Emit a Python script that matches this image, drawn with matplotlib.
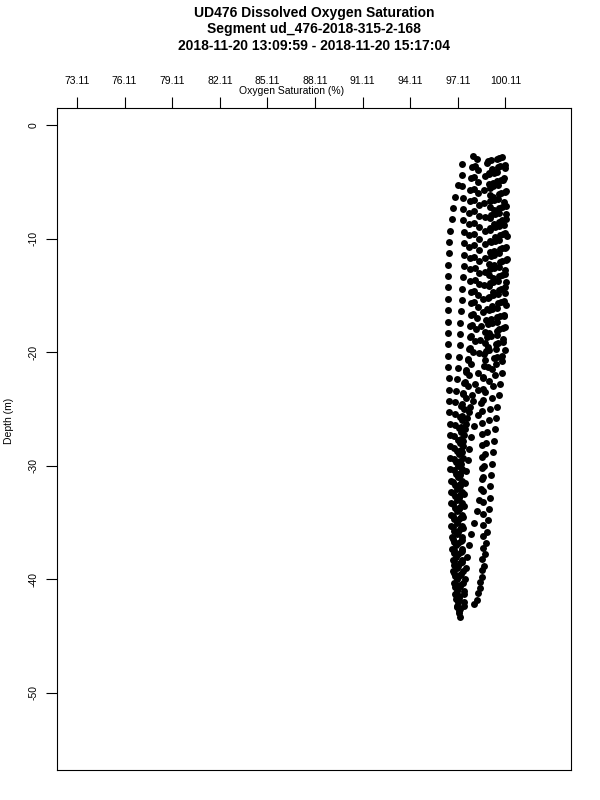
"""
    UD476 dissolved oxygen saturation profile, glider segment ud_476-2018-315-2-168
"""

import matplotlib
matplotlib.use('Agg')
import numpy as np
import matplotlib.pyplot as plt
import matplotlib.transforms as mtransforms

TITLE_LINES = ['UD476 Dissolved Oxygen Saturation',
               'Segment ud_476-2018-315-2-168',
               '2018-11-20 13:09:59 - 2018-11-20 15:17:04']
XTICKS = [73.11, 76.11, 79.11, 82.11, 85.11, 88.11, 91.11, 94.11, 97.11, 100.11]
YTICKS = [0, -10, -20, -30, -40, -50]

# one list per cast, depth in metres (positive down) and oxygen saturation in %
a_depth = [5.3, 6.3, 7.3, 8.3, 9.3, 10.3, 11.3, 12.3, 13.3, 14.3, 15.3, 16.3, 17.3, 18.3,
           19.3, 20.3, 21.3, 22.3, 23.3, 24.3, 25.3, 26.3, 27.3, 28.3, 29.3, 30.3, 31.3,
           32.3, 33.3, 34.3, 35.3, 36.3, 37.3, 38.3, 39.3, 40.3, 41.3, 42.3, 43.3]
a_oxy = [97.10, 96.95, 96.82, 96.72, 96.64, 96.58, 96.54, 96.52, 96.50, 96.50, 96.48, 96.48,
         96.48, 96.50, 96.50, 96.52, 96.52, 96.55, 96.55, 96.57, 96.58, 96.60, 96.60, 96.62,
         96.62, 96.64, 96.65, 96.67, 96.68, 96.70, 96.70, 96.72, 96.74, 96.78, 96.82, 96.88,
         96.96, 97.06, 97.22]

b_depth = [3.4, 4.4, 5.4, 6.4, 7.4, 8.4, 9.4, 10.4, 11.4, 12.4, 13.4, 14.4, 15.4, 16.4,
           17.4, 18.4, 19.4, 20.4, 21.4, 22.4, 23.4, 24.4, 25.4, 26.4, 27.4, 28.4, 29.4,
           30.4, 31.4, 32.4, 33.4, 34.4, 35.4, 36.4, 37.4, 38.4, 39.4, 40.4, 41.4, 42.4]
b_oxy = [97.35, 97.38, 97.40, 97.42, 97.44, 97.46, 97.48, 97.50, 97.50, 97.48, 97.45, 97.40,
         97.35, 97.30, 97.26, 97.24, 97.22, 97.18, 97.12, 97.06, 97.00, 96.96, 96.92, 96.90,
         96.88, 96.86, 96.85, 96.84, 96.83, 96.82, 96.82, 96.82, 96.82, 96.83, 96.84, 96.86,
         96.88, 96.92, 96.98, 97.05]

c_depth = [2.7, 3.7, 4.7, 5.7, 6.7, 7.7, 8.7, 9.7, 10.7, 11.7, 12.7, 13.7, 14.7, 15.7,
           16.7, 17.7, 18.7, 19.7, 20.7, 21.7, 22.7, 23.7, 24.7, 25.7, 26.7, 27.7, 28.7,
           29.7, 30.7, 31.7, 32.7, 33.7, 34.7, 35.7, 36.7, 37.7, 38.7, 39.7, 40.7, 41.7]
c_oxy = [98.06, 97.98, 97.92, 97.88, 97.85, 97.83, 97.82, 97.82, 97.83, 97.85, 97.88, 97.90,
         97.92, 97.93, 97.92, 97.90, 97.86, 97.80, 97.72, 97.62, 97.52, 97.42, 97.32, 97.24,
         97.16, 97.10, 97.05, 97.00, 96.97, 96.94, 96.92, 96.90, 96.88, 96.88, 96.87, 96.87,
         96.88, 96.90, 96.94, 97.00]

d_depth = [3.0, 4.0, 5.0, 6.0, 7.0, 8.0, 9.0, 10.0, 11.0, 12.0, 13.0, 14.0, 15.0, 16.0,
           17.0, 18.0, 19.0, 20.0, 21.0, 22.0, 23.0, 24.0, 25.0, 26.0, 27.0, 28.0, 29.0,
           30.0, 31.0, 32.0, 33.0, 34.0, 35.0, 36.0, 37.0, 38.0, 39.0, 40.0, 41.0, 42.0, 43.0]
d_oxy = [98.30, 98.35, 98.38, 98.40, 98.42, 98.44, 98.45, 98.46, 98.46, 98.45, 98.44, 98.42,
         98.40, 98.36, 98.32, 98.26, 98.18, 98.08, 97.96, 97.84, 97.72, 97.60, 97.50, 97.40,
         97.32, 97.24, 97.18, 97.12, 97.10, 97.08, 97.06, 97.05, 97.04, 97.03, 97.02, 97.02,
         97.03, 97.05, 97.08, 97.12, 97.18]

e_depth = [3.2, 4.2, 5.2, 6.2, 7.2, 8.2, 9.2, 10.2, 11.2, 12.2, 13.2, 14.2, 15.2, 16.2,
           17.2, 18.2, 19.2, 20.2, 21.2, 22.2, 23.2, 24.2, 25.2, 26.2, 27.2, 28.2, 29.2,
           30.2, 31.2, 32.2, 33.2, 34.2, 35.2, 36.2, 37.2, 38.2, 39.2, 40.2, 41.2, 42.2]
e_oxy = [99.00, 99.05, 99.10, 99.12, 99.14, 99.15, 99.15, 99.14, 99.12, 99.10, 99.08, 99.05,
         99.00, 98.95, 98.90, 98.85, 98.80, 98.76, 98.73, 98.70, 98.68, 98.67, 98.66, 98.65,
         98.64, 98.63, 98.63, 98.64, 98.66, 98.68, 98.70, 98.71, 98.71, 98.70, 98.68, 98.66,
         98.62, 98.52, 98.36, 98.10]

f_depth = [2.8, 3.8, 4.8, 5.8, 6.8, 7.8, 8.8, 9.8, 10.8, 11.8, 12.8, 13.8, 14.8, 15.8,
           16.8, 17.8, 18.8, 19.8, 20.8, 21.8, 22.8, 23.8, 24.8, 25.8, 26.8, 27.8, 28.8,
           29.8, 30.8, 31.8, 32.8, 33.8, 34.8, 35.8, 36.8, 37.8, 38.8, 39.8, 40.8, 41.8]
f_oxy = [99.90, 100.05, 99.95, 100.12, 100.00, 100.15, 100.02, 100.18, 100.05, 100.18, 100.06,
         100.16, 100.05, 100.14, 100.02, 100.10, 99.98, 100.05, 99.92, 99.90, 99.78, 99.68,
         99.58, 99.50, 99.42, 99.36, 99.30, 99.25, 99.20, 99.16, 99.11, 99.06, 99.01, 98.96,
         98.90, 98.84, 98.76, 98.66, 98.52, 98.30]

g_depth = [3.0, 3.6, 4.2, 4.8, 5.4, 6.0, 6.6, 7.2, 7.8, 8.4, 9.0, 9.6, 10.2, 10.8, 11.4,
           12.0, 12.6, 13.2, 13.8, 14.4, 15.0, 15.6, 16.2, 16.8, 17.4, 18.0, 18.6, 19.2, 19.8,
           20.4, 21.5, 22.5, 23.5, 24.5, 25.5, 26.5, 27.5, 28.5, 29.5, 30.5, 31.5, 32.5, 33.5,
           34.5, 35.5, 36.5, 37.5, 38.5, 39.5, 40.5, 41.5, 42.5]
g_oxy = [99.55, 99.75, 99.40, 99.80, 99.35, 99.85, 99.40, 99.90, 99.45, 99.92, 99.42, 99.95,
         99.45, 99.92, 99.40, 99.90, 99.38, 99.88, 99.35, 99.85, 99.30, 99.82, 99.28, 99.78,
         99.25, 99.72, 99.20, 99.65, 99.10, 99.55, 99.25, 99.05, 98.85, 98.60, 98.35, 98.12,
         97.92, 97.80, 97.72, 97.65, 97.58, 97.52, 97.48, 97.45, 97.42, 97.40, 97.38, 97.35,
         97.30, 97.25, 97.20, 97.18]

h_depth = [3.3, 3.9, 4.5, 5.1, 5.7, 6.3, 6.9, 7.5, 8.1, 8.7, 9.3, 9.9, 10.5, 11.1, 11.7,
           12.3, 12.9, 13.5, 14.1, 14.7, 15.3, 15.9, 16.5, 17.1, 17.7, 18.3, 18.9, 19.5, 20.1,
           20.7, 21.8, 22.8, 23.8, 24.8, 25.8, 26.8, 27.8, 28.8, 29.8, 30.8, 31.8, 32.8, 33.8,
           34.8, 35.8, 36.8, 37.8, 38.8, 39.8, 40.8, 41.8, 42.8]
h_oxy = [98.95, 99.25, 98.80, 99.30, 98.75, 99.35, 98.78, 99.38, 98.80, 99.40, 98.82, 99.42,
         98.85, 99.40, 98.82, 99.38, 98.80, 99.35, 98.78, 99.30, 98.72, 99.25, 98.68, 99.18,
         98.60, 99.10, 98.52, 99.00, 98.42, 98.85, 98.40, 98.20, 98.02, 97.85, 97.70, 97.56,
         97.44, 97.36, 97.30, 97.26, 97.22, 97.19, 97.17, 97.15, 97.13, 97.12, 97.11, 97.10,
         97.10, 97.11, 97.13, 97.18]

i_depth = [2.9, 3.5, 4.1, 4.7, 5.3, 5.9, 6.5, 7.1, 7.7, 8.3, 8.9, 9.5, 10.1, 10.7, 11.3,
           11.9, 12.5, 13.1, 13.7, 14.3, 14.9, 15.5, 16.1, 16.7, 17.3, 17.9, 18.5, 19.1, 19.7,
           20.3, 21.0, 22.0, 23.0, 24.0, 25.0, 26.0, 27.0, 28.0, 29.0, 30.0, 31.0, 32.0, 33.0,
           34.0, 35.0, 36.0, 37.0, 38.0, 39.0, 40.0, 41.0, 42.0]
i_oxy = [99.70, 100.10, 99.60, 100.00, 99.65, 100.08, 99.62, 100.12, 99.70, 100.15, 99.68,
         100.10, 99.72, 100.14, 99.70, 100.12, 99.68, 100.10, 99.66, 100.08, 99.62, 100.04,
         99.60, 100.00, 99.58, 99.98, 99.55, 99.95, 99.52, 99.88, 99.50, 99.45, 99.35, 99.25,
         99.15, 99.05, 98.95, 98.90, 98.85, 98.78, 98.70, 98.60, 98.45, 98.30, 98.10, 97.95,
         97.80, 97.70, 97.60, 97.55, 97.50, 97.48]

j_depth = [3.6, 4.6, 5.6, 6.6, 7.6, 8.6, 9.6, 10.6, 11.6, 12.6, 13.6, 14.6, 15.6, 16.6,
           17.6, 18.6, 19.6, 20.6, 21.6, 22.6, 23.6, 24.6, 25.6, 26.6, 27.6, 28.6, 29.6,
           30.6, 31.6, 32.6, 33.6, 34.6, 35.6, 36.6, 37.6, 38.6, 39.6, 40.6, 41.6, 42.6]
j_oxy = [98.20, 98.15, 98.12, 98.10, 98.10, 98.10, 98.12, 98.14, 98.15, 98.16, 98.16, 98.15,
         98.12, 98.08, 98.02, 97.95, 97.85, 97.75, 97.65, 97.55, 97.46, 97.40, 97.35, 97.32,
         97.30, 97.28, 97.27, 97.26, 97.25, 97.25, 97.25, 97.26, 97.27, 97.28, 97.28, 97.27,
         97.25, 97.22, 97.20, 97.25]

k_depth = [3.1, 3.7, 4.3, 4.9, 5.5, 6.1, 6.7, 7.3, 7.9, 8.5, 9.1, 9.7, 10.3, 10.9, 11.5,
           12.1, 12.7, 13.3, 13.9, 14.5, 15.1, 15.7, 16.3, 16.9, 17.5, 18.1, 18.7, 19.3, 19.9,
           20.5, 21.3, 22.3, 23.3, 24.3, 25.3, 26.3, 27.3, 28.3, 29.3, 30.3, 31.3, 32.3, 33.3,
           34.3, 35.3, 36.3, 37.3, 38.3, 39.3, 40.3, 41.3, 42.3]
k_oxy = [99.20, 99.65, 99.10, 99.60, 99.15, 99.70, 99.12, 99.68, 99.18, 99.72, 99.15, 99.75,
         99.20, 99.78, 99.18, 99.75, 99.15, 99.72, 99.12, 99.70, 99.10, 99.65, 99.05, 99.60,
         99.00, 99.55, 98.95, 99.50, 98.90, 99.40, 99.00, 98.70, 98.35, 98.05, 97.80, 97.62,
         97.50, 97.45, 97.42, 97.40, 97.38, 97.37, 97.36, 97.36, 97.36, 97.37, 97.38, 97.40,
         97.42, 97.45, 97.48, 97.50]


def main():
    plt.rcParams['font.family'] = ['Liberation Sans', 'DejaVu Sans']

    fig = plt.figure(figsize=(6, 8), dpi=100)
    ax = fig.add_axes([57/600, 30/800, 514/600, 662/800])

    casts = [(a_depth, a_oxy), (b_depth, b_oxy), (c_depth, c_oxy), (d_depth, d_oxy),
             (e_depth, e_oxy), (f_depth, f_oxy), (g_depth, g_oxy), (h_depth, h_oxy),
             (i_depth, i_oxy), (j_depth, j_oxy), (k_depth, k_oxy)]
    for depth, oxy in casts:
        ax.plot(oxy, -np.array(depth), 'o', color='black', ms=5, mew=0)

    ax.set_xlim(71.85, 104.24)
    ax.set_ylim(-56.78, 1.5)

    ax.xaxis.tick_top()
    ax.set_xticks(XTICKS)
    ax.set_xticklabels(['%.2f' % t for t in XTICKS])
    ax.set_yticks(YTICKS)
    ax.set_yticklabels([str(t) for t in YTICKS], rotation=90, va='center')
    ax.tick_params(axis='both', direction='out', length=8, width=0.8, labelsize=7.5, color='black')
    ax.tick_params(axis='x', pad=8)
    ax.tick_params(axis='y', pad=5)
    for s in ax.spines.values():
        s.set_linewidth(0.8)

    # x label sits in the middle of the tick range, just over the ticks
    trans = mtransforms.blended_transform_factory(ax.transData, fig.transFigure)
    ax.text(np.mean(XTICKS), 1 - 91/800, 'Oxygen Saturation (%)', transform=trans,
            ha='center', va='center', fontsize=7.5)
    fig.text(9/600, 1 - 421/800, 'Depth (m)', rotation=90, ha='center', va='center', fontsize=7.5)

    for i, line in enumerate(TITLE_LINES):
        fig.text(314/600, 1 - (13 + 16.5*i)/800, line, ha='center', va='center',
                 fontsize=10, fontweight='bold')

    fig.savefig('out.png', dpi=100)


if __name__ == '__main__':
    main()
